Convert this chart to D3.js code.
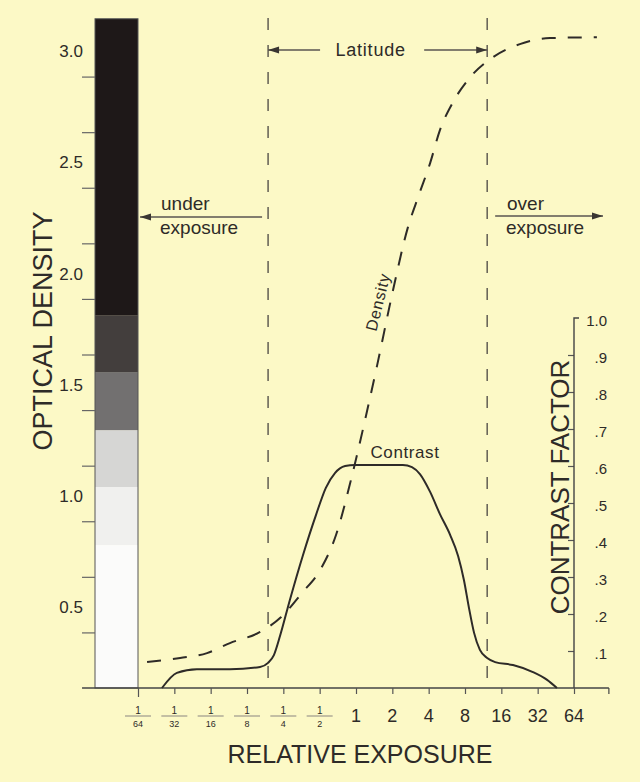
<!DOCTYPE html>
<html><head><meta charset="utf-8">
<script src="https://cdn.jsdelivr.net/npm/d3@7"></script>
<style>
body{margin:0;background:#fcf9c6}
text{font-family:"Liberation Sans",Arial,Helvetica,sans-serif;fill:#2e2b28}
</style>
</head><body><svg id="c" width="640" height="782"></svg>
<script>
// ---- data ----
// exposure as log2 stops relative to 1
const exposureTicks = [-6,-5,-4,-3,-2,-1,0,1,2,3,4,5,6];
const exposureNumerators = ["1","1","1","1","1","1"];
const exposureDenominators = ["64","32","16","8","4","2"];
const exposureLabels = ["1","2","4","8","16","32","64"];
const densityTicks = [0.25,0.5,0.75,1.0,1.25,1.5,1.75,2.0,2.25,2.5,2.75];
const densityLabels = [3.0,2.5,2.0,1.5,1.0,0.5];
const contrastTicks = [0.1,0.2,0.3,0.4,0.5,0.6,0.7,0.8,0.9];
const contrastLabelValues = [1.0,0.9,0.8,0.7,0.6,0.5,0.4,0.3,0.2,0.1];
const contrastLabelTexts = ["1.0",".9",".8",".7",".6",".5",".4",".3",".2",".1"];

const densityStops  = [-5.75,-4.84,-4.10,-3.47,-2.64,-2.06,-1.51,-0.94,-0.55,-0.14,0.28,0.58,1.02,1.43,1.71,2.04,2.31,2.67,3.19,3.77,4.51,5.34,6.63];
const densityValues = [0.117,0.135,0.157,0.202,0.252,0.319,0.423,0.544,0.688,0.935,1.228,1.45,1.79,2.073,2.208,2.361,2.509,2.635,2.756,2.837,2.896,2.923,2.927];

const contrastStops  = [-5.34,-4.93,-4.38,-3.47,-2.64,-2.42,-2.26,-2.09,-1.82,-1.46,-1.10,-0.83,-0.58,-0.30,-0.03,1.29,1.54,1.76,2.04,2.31,2.59,2.81,2.97,3.11,3.25,3.41,3.61,3.83,4.32,4.87,5.26,5.53];
const contrastValues = [0,0.041,0.051,0.051,0.057,0.068,0.089,0.141,0.238,0.359,0.468,0.541,0.581,0.600,0.603,0.603,0.597,0.578,0.530,0.470,0.414,0.357,0.292,0.216,0.149,0.103,0.081,0.070,0.062,0.043,0.022,0];

const filmBandEdges  = [0,0.643,0.904,1.16,1.421,1.677,3.01];
const filmBandColors = ["#fbfbfa","#f0f0ee","#d6d6d4","#727070","#433e3d","#1e1818"];

const latitudeStops = [-2.42, 3.61];
const axisExtentStops = [-7.54, 6.96];

// ---- scales ----
const svg = d3.select("#c");
svg.append("rect").attr("width",640).attr("height",782).attr("fill","#fcf9c6");

const x  = d3.scaleLinear().domain([-6,6]).range([138,574]);
const yD = d3.scaleLinear().domain([0,3]).range([688,21]);
const yC = d3.scaleLinear().domain([0,1]).range([688,318]);
const ink = "#2e2b28";

// ---- film density strip ----
const barX0 = 95, barX1 = x(-6);
svg.append("g").selectAll("rect").data(filmBandColors).join("rect")
  .attr("x",barX0).attr("width",barX1-barX0)
  .attr("y",(d,i)=>yD(filmBandEdges[i+1]))
  .attr("height",(d,i)=>yD(filmBandEdges[i])-yD(filmBandEdges[i+1]))
  .attr("fill",d=>d);
svg.append("rect").attr("x",barX0).attr("y",yD(filmBandEdges[6]))
  .attr("width",barX1-barX0).attr("height",yD(0)-yD(filmBandEdges[6]))
  .attr("fill","none").attr("stroke","#555").attr("stroke-width",1);

// ---- left axis ----
const gL = svg.append("g").attr("transform",`translate(${barX0},0)`)
  .call(d3.axisLeft(yD).tickValues(densityTicks).tickSize(13).tickFormat(""));
gL.select(".domain").remove();
gL.selectAll("line").attr("stroke","#666").attr("stroke-width",1.2);
svg.append("g").selectAll("text").data(densityLabels).join("text")
  .attr("x",83).attr("y",d=>yD(d-0.125)+3).attr("text-anchor","end")
  .attr("dominant-baseline","central").attr("font-size",17).attr("fill","#55504a")
  .text(d=>d.toFixed(1));

// ---- bottom axis ----
svg.append("line").attr("x1",x(axisExtentStops[0])).attr("x2",x(axisExtentStops[1]))
  .attr("y1",688).attr("y2",688).attr("stroke","#444").attr("stroke-width",1.4);
svg.append("line").attr("x1",x(axisExtentStops[1])).attr("x2",x(axisExtentStops[1]))
  .attr("y1",688).attr("y2",694).attr("stroke","#444").attr("stroke-width",1.2);
const gB = svg.append("g").attr("transform","translate(0,688)")
  .call(d3.axisBottom(x).tickValues(exposureTicks).tickSize(6).tickFormat(""));
gB.select(".domain").remove();
gB.selectAll("line").attr("stroke","#555").attr("stroke-width",1.2);
gB.selectAll(".tick").filter(d=>d===-6).select("line").attr("y2",9);

const frac = svg.append("g").selectAll("g").data(exposureDenominators).join("g")
  .attr("transform",(d,i)=>`translate(${x(exposureTicks[i])},0)`);
frac.append("text").attr("y",710).attr("text-anchor","middle").attr("dominant-baseline","central")
  .attr("font-size",10).attr("fill","#4a4642").text((d,i)=>exposureNumerators[i]);
frac.append("line").attr("x1",-13).attr("x2",13).attr("y1",716).attr("y2",716)
  .attr("stroke","#8a8580").attr("stroke-width",1);
frac.append("text").attr("y",724).attr("text-anchor","middle").attr("dominant-baseline","central")
  .attr("font-size",9).attr("fill","#8a8580").text(d=>d);
svg.append("g").selectAll("text").data(exposureLabels).join("text")
  .attr("x",(d,i)=>x(exposureTicks[i+6])).attr("y",722).attr("text-anchor","middle")
  .attr("font-size",18).text(d=>d);

// ---- right axis ----
const rx = x(6);
const gR = svg.append("g").attr("transform",`translate(${rx},0)`)
  .call(d3.axisLeft(yC).tickValues(contrastTicks).tickSize(6).tickFormat(""));
gR.select(".domain").remove();
gR.selectAll("line").attr("stroke","#555").attr("stroke-width",1.2);
svg.append("path").attr("d",`M${rx},${yC(0)}V${yC(1)}H${rx+5}`)
  .attr("fill","none").attr("stroke","#444").attr("stroke-width",1.4);
svg.append("g").selectAll("text").data(contrastLabelTexts).join("text")
  .attr("x",607).attr("y",(d,i)=>yC(contrastLabelValues[i])+2).attr("text-anchor","end")
  .attr("dominant-baseline","central").attr("font-size",15).attr("fill","#55504a").text(d=>d);

// ---- latitude bounds ----
svg.append("g").selectAll("line").data(latitudeStops).join("line")
  .attr("x1",d=>x(d)).attr("x2",d=>x(d)).attr("y1",18).attr("y2",686)
  .attr("stroke","#4a4642").attr("stroke-width",1.3).attr("stroke-dasharray","12,15");

// ---- curves ----
const densityLine = d3.line().x(d=>x(d[0])).y(d=>yD(d[1])).curve(d3.curveMonotoneX);
svg.append("path").datum(d3.zip(densityStops,densityValues)).attr("d",densityLine)
  .attr("fill","none").attr("stroke",ink).attr("stroke-width",2)
  .attr("stroke-dasharray","14,12");
const contrastLine = d3.line().x(d=>x(d[0])).y(d=>yC(d[1])).curve(d3.curveMonotoneX);
svg.append("path").datum(d3.zip(contrastStops,contrastValues)).attr("d",contrastLine)
  .attr("fill","none").attr("stroke",ink).attr("stroke-width",2);

// ---- arrows & annotations ----
function arrow(x1,x2,y){
  svg.append("line").attr("x1",x1).attr("x2",x2).attr("y1",y).attr("y2",y)
    .attr("stroke","#5a5550").attr("stroke-width",1.3);
  const dir = Math.sign(x2-x1);
  svg.append("path").attr("d",`M${x2},${y}L${x2-dir*11},${y-3.5}L${x2-dir*11},${y+3.5}Z`)
    .attr("fill","#3a3632");
}
const xl = x(latitudeStops[0]), xr = x(latitudeStops[1]);
arrow(xl+52, xl, 50);
arrow(xr-63, xr, 50);
svg.append("text").attr("x",(xl+xr)/2-7).attr("y",50).attr("text-anchor","middle")
  .attr("dominant-baseline","central").attr("font-size",18).attr("letter-spacing",0.8).text("Latitude");

arrow(xl-6, 140, 217);
svg.append("text").attr("x",161).attr("y",203).attr("dominant-baseline","central")
  .attr("font-size",19).text("under");
svg.append("text").attr("x",160).attr("y",227).attr("dominant-baseline","central")
  .attr("font-size",19).text("exposure");

arrow(xr+8, 603, 216);
svg.append("text").attr("x",507).attr("y",203).attr("dominant-baseline","central")
  .attr("font-size",19).text("over");
svg.append("text").attr("x",506).attr("y",227).attr("dominant-baseline","central")
  .attr("font-size",19).text("exposure");

svg.append("text").attr("transform","translate(378,302) rotate(-76)")
  .attr("text-anchor","middle").attr("dominant-baseline","central")
  .attr("font-size",16).attr("letter-spacing",0.8).text("Density");
svg.append("text").attr("x",405).attr("y",452).attr("text-anchor","middle")
  .attr("dominant-baseline","central").attr("font-size",17).attr("letter-spacing",0.6).text("Contrast");

// ---- axis titles ----
svg.append("text").attr("transform","translate(43,331) rotate(-90)")
  .attr("text-anchor","middle").attr("dominant-baseline","central")
  .attr("font-size",27).text("OPTICAL DENSITY");
svg.append("text").attr("transform","translate(560,487) rotate(-90)")
  .attr("text-anchor","middle").attr("dominant-baseline","central")
  .attr("font-size",26).text("CONTRAST FACTOR");
svg.append("text").attr("x",360).attr("y",763).attr("text-anchor","middle")
  .attr("font-size",25).text("RELATIVE EXPOSURE");
</script>
</body></html>
